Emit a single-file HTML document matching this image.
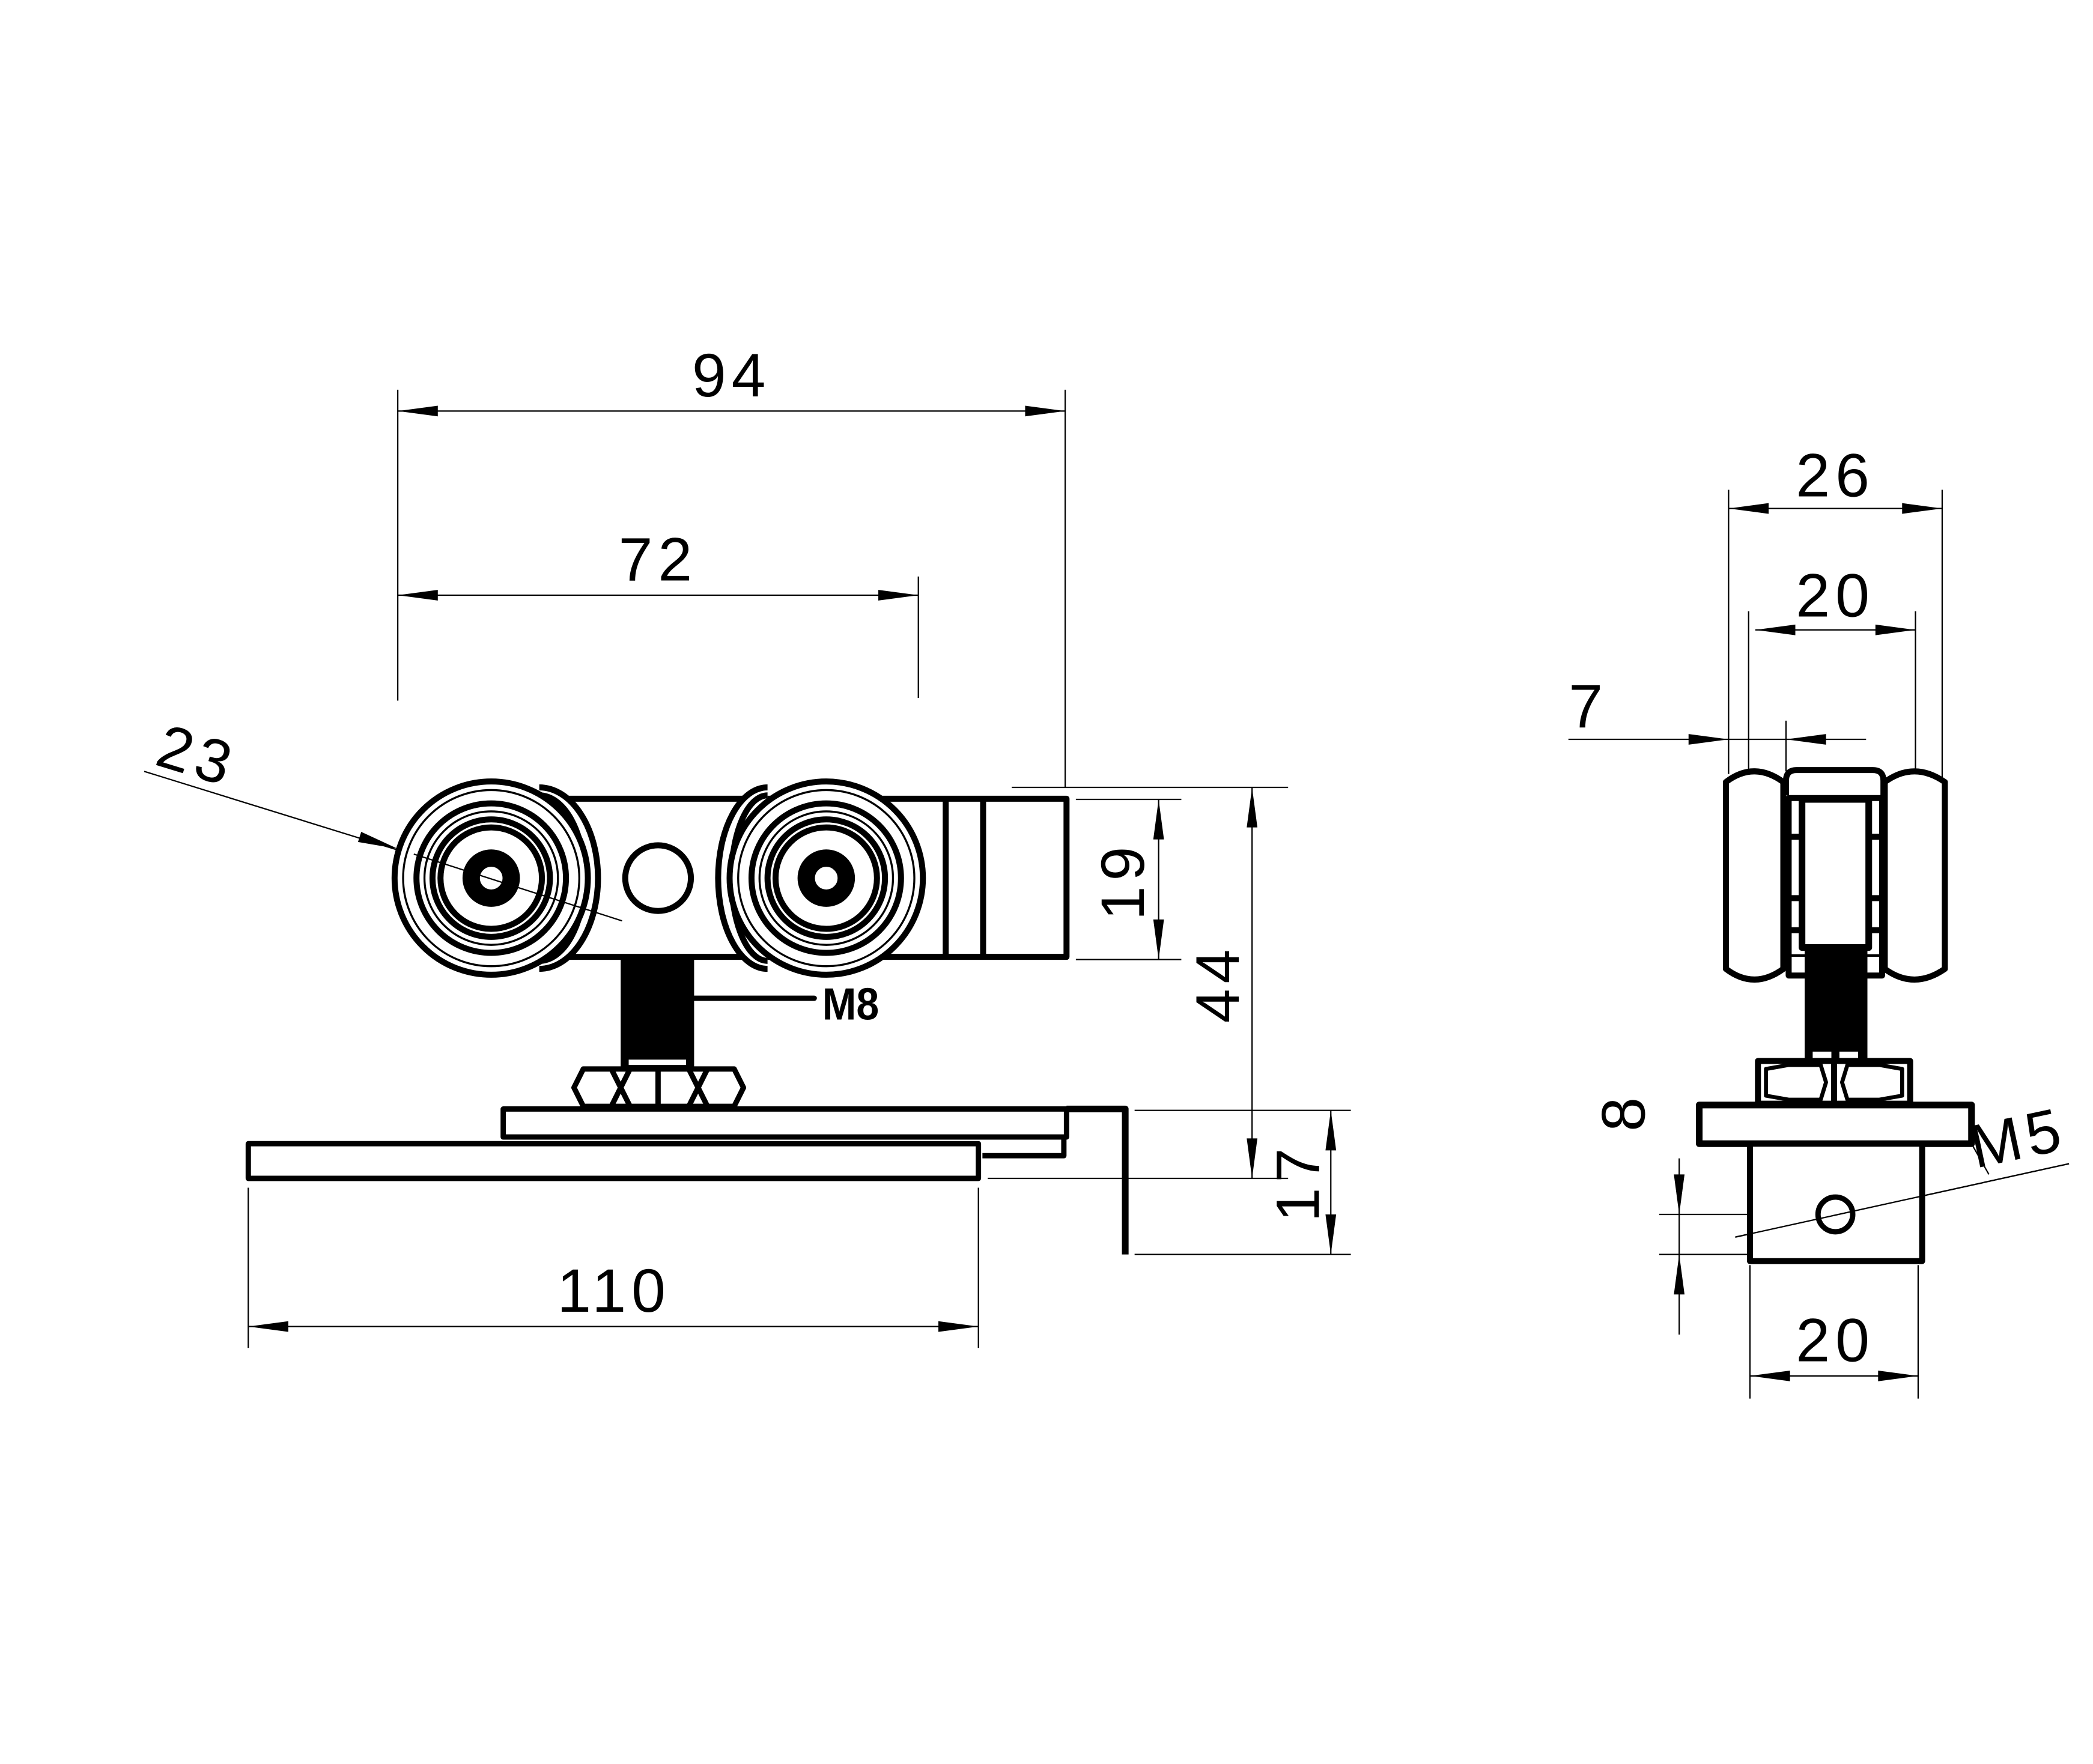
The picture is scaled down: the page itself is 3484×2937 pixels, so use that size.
<!DOCTYPE html>
<html><head><meta charset="utf-8"><style>
html,body{margin:0;padding:0;background:#fff;}
svg{display:block;}
text{font-family:"Liberation Sans",sans-serif;}
</style></head><body>
<svg width="3484" height="2937" viewBox="0 0 1568 1321.8" preserveAspectRatio="none" xmlns="http://www.w3.org/2000/svg">
<rect x="0" y="0" width="1568" height="1322" fill="#fff"/>
<g stroke="#000" stroke-width="1" fill="none">
 <line x1="298" y1="292" x2="298" y2="525"/>
 <line x1="798" y1="292" x2="798" y2="590"/>
 <line x1="688" y1="432" x2="688" y2="523"/>
 <line x1="298" y1="308" x2="798" y2="308"/>
 <line x1="298" y1="446" x2="688" y2="446"/>
 <line x1="108" y1="578" x2="495" y2="698"/>
 <line x1="806" y1="599" x2="885" y2="599"/>
 <line x1="806" y1="719" x2="885" y2="719"/>
 <line x1="868" y1="599" x2="868" y2="719"/>
 <line x1="758" y1="590" x2="965" y2="590"/>
 <line x1="740" y1="883" x2="965" y2="883"/>
 <line x1="938" y1="590" x2="938" y2="883"/>
 <line x1="850" y1="832" x2="1012" y2="832"/>
 <line x1="850" y1="940" x2="1012" y2="940"/>
 <line x1="997" y1="832" x2="997" y2="940"/>
 <line x1="186" y1="890" x2="186" y2="1010"/>
 <line x1="733" y1="890" x2="733" y2="1010"/>
 <line x1="186" y1="994" x2="733" y2="994"/>
 <line x1="1295" y1="367" x2="1295" y2="580"/>
 <line x1="1455" y1="367" x2="1455" y2="590"/>
 <line x1="1310" y1="458" x2="1310" y2="580"/>
 <line x1="1435" y1="458" x2="1435" y2="578"/>
 <line x1="1338" y1="540" x2="1338" y2="578"/>
 <line x1="1295" y1="381" x2="1455" y2="381"/>
 <line x1="1315" y1="472" x2="1435" y2="472"/>
 <line x1="1175" y1="554" x2="1398" y2="554"/>
 <line x1="1243" y1="910" x2="1312" y2="910"/>
 <line x1="1243" y1="940" x2="1312" y2="940"/>
 <line x1="1258" y1="868" x2="1258" y2="1000"/>
 <line x1="1300" y1="927" x2="1550" y2="872"/>
 <line x1="1477" y1="857" x2="1490" y2="880"/>
 <line x1="1311" y1="948" x2="1311" y2="1048"/>
 <line x1="1437" y1="948" x2="1437" y2="1048"/>
 <line x1="1311" y1="1031" x2="1437" y2="1031"/>
</g>
<g fill="#000">
 <polygon points="298,308 328,304 328,312"/><polygon points="798,308 768,304 768,312"/>
 <polygon points="298,446 328,442 328,450"/><polygon points="688,446 658,442 658,450"/>
 <polygon points="298,636 268.2,630.9 270.6,623.3"/><polygon points="466,690 493.4,702.7 495.8,695.1"/>
 <polygon points="868,599 864,629 872,629"/><polygon points="868,719 864,689 872,689"/>
 <polygon points="938,590 934,620 942,620"/><polygon points="938,883 934,853 942,853"/>
 <polygon points="997,832 993,862 1001,862"/><polygon points="997,940 993,910 1001,910"/>
 <polygon points="186,994 216,990 216,998"/><polygon points="733,994 703,990 703,998"/>
 <polygon points="1295,381 1325,377 1325,385"/><polygon points="1455,381 1425,377 1425,385"/>
 <polygon points="1315,472 1345,468 1345,476"/><polygon points="1435,472 1405,468 1405,476"/>
 <polygon points="1295,554 1265,550 1265,558"/><polygon points="1338,554 1368,550 1368,558"/>
 <polygon points="1258,910 1254,880 1262,880"/><polygon points="1258,940 1254,970 1262,970"/>
 <polygon points="1362,914 1333.6,924.4 1331.8,916.6"/><polygon points="1388,908 1418.2,905.4 1416.4,897.6"/>
 <polygon points="1311,1031 1341,1027 1341,1035"/><polygon points="1437,1031 1407,1027 1407,1035"/>
</g>
<g font-size="46" fill="#000" text-anchor="middle" letter-spacing="4">
 <text x="548" y="297">94</text>
 <text x="493" y="435">72</text>
 <text x="148" y="582" transform="rotate(17 148 565)">23</text>
 <text x="460" y="983">110</text>
 <text x="0" y="0" transform="translate(857 660) rotate(-90)">19</text>
 <text x="0" y="0" transform="translate(928 737) rotate(-90)">44</text>
 <text x="0" y="0" transform="translate(988 886) rotate(-90)">17</text>
 <text x="1375" y="372">26</text>
 <text x="1375" y="462">20</text>
 <text x="1190" y="545">7</text>
 <text x="0" y="0" transform="translate(1232 833) rotate(-90)">8</text>
 <text x="0" y="0" transform="translate(1515 868) rotate(-12)">M5</text>
 <text x="1375" y="1020">20</text>
</g>
<g stroke="#000" stroke-width="4.5" fill="#fff" stroke-linejoin="round">
 <rect x="406" y="598.5" width="393" height="118.5"/>
 <line x1="708.5" y1="598.5" x2="708.5" y2="717"/>
 <line x1="736.5" y1="598.5" x2="736.5" y2="717"/>
 <path d="M404,590 A44,68 0 0 1 404,726" fill="#fff"/>
 <path d="M404,596 A34,62 0 0 1 404,720" fill="none"/>
 <path d="M575,590 A37,68 0 0 0 575,726" fill="#fff"/>
 <path d="M575,596 A27,62 0 0 0 575,720" fill="none"/>
 <circle cx="493" cy="658" r="24.6"/>
</g>
<g stroke="#000" fill="none">
 <circle cx="368" cy="658" r="72.4" stroke-width="4.5" fill="#fff"/>
 <circle cx="368" cy="658" r="66" stroke-width="1.5"/>
 <circle cx="368" cy="658" r="56" stroke-width="4.5"/>
 <circle cx="368" cy="658" r="50" stroke-width="1.5"/>
 <circle cx="368" cy="658" r="44" stroke-width="4.5"/>
 <circle cx="368" cy="658" r="38" stroke-width="4.5"/>
 <circle cx="368" cy="658" r="15" stroke-width="13"/>
 <circle cx="619" cy="658" r="72.4" stroke-width="4.5" fill="#fff"/>
 <circle cx="619" cy="658" r="66" stroke-width="1.5"/>
 <circle cx="619" cy="658" r="56" stroke-width="4.5"/>
 <circle cx="619" cy="658" r="50" stroke-width="1.5"/>
 <circle cx="619" cy="658" r="44" stroke-width="4.5"/>
 <circle cx="619" cy="658" r="38" stroke-width="4.5"/>
 <circle cx="619" cy="658" r="15" stroke-width="13"/>
</g>
<line x1="310" y1="640" x2="466" y2="690" stroke="#000" stroke-width="1"/>
<rect x="465" y="717" width="55" height="83" fill="#000"/>
<rect x="471" y="794" width="43" height="4" fill="#fff"/>
<line x1="520" y1="748" x2="610" y2="748" stroke="#000" stroke-width="4" stroke-linecap="round"/>
<text x="0" y="0" transform="translate(616 764) scale(0.9 1)" font-size="34" font-weight="bold" fill="#000">M8</text>
<g stroke="#000" stroke-width="4" fill="#fff" stroke-linejoin="round">
 <polygon points="430,815 437,801 550,801 557,815 550,829 437,829"/>
 <polyline points="458,801 465,815 458,829" fill="none"/>
 <polyline points="472,801 465,815 472,829" fill="none"/>
 <polyline points="516,801 523,815 516,829" fill="none"/>
 <polyline points="530,801 523,815 530,829" fill="none"/>
 <line x1="493" y1="801" x2="493" y2="829"/>
 <rect x="377" y="831" width="422" height="21"/>
 <rect x="186" y="857" width="547" height="26"/>
 <path d="M799,831 L843,831 L843,940" fill="none" stroke-width="5"/>
 <path d="M797,852 L797,866 L736,866" fill="none"/>
</g>
<g stroke="#000" stroke-width="4.5" fill="#fff" stroke-linejoin="round">
 <path d="M1293,586 Q1314,570 1336,586 L1336,726 Q1314,742 1293,726 Z"/>
 <path d="M1412,586 Q1434,570 1457,586 L1457,726 Q1434,742 1412,726 Z"/>
 <path d="M1338,596 L1338,585 Q1338,577 1346,577 L1403,577 Q1411,577 1411,585 L1411,596" fill="none"/>
 <rect x="1340" y="598" width="70" height="133"/>
 <rect x="1350" y="599" width="50" height="111" stroke-width="5"/>
 <line x1="1340" y1="627" x2="1350" y2="627"/><line x1="1400" y1="627" x2="1410" y2="627"/>
 <line x1="1340" y1="673" x2="1350" y2="673"/><line x1="1400" y1="673" x2="1410" y2="673"/>
 <line x1="1340" y1="697" x2="1350" y2="697"/><line x1="1400" y1="697" x2="1410" y2="697"/>
 <line x1="1340" y1="716" x2="1410" y2="716" stroke-width="2"/>
</g>
<rect x="1352" y="710" width="47" height="85" fill="#000"/>
<rect x="1358" y="788" width="14" height="5" fill="#fff"/>
<rect x="1378" y="788" width="14" height="5" fill="#fff"/>
<g stroke="#000" stroke-width="4.5" fill="#fff" stroke-linejoin="round">
 <rect x="1317" y="795" width="114" height="32"/>
 <polygon points="1323,801 1340,798 1364,798 1368,811 1364,824 1340,824 1323,821" stroke-width="3"/>
 <polygon points="1425,801 1408,798 1384,798 1380,811 1384,824 1408,824 1425,821" stroke-width="3"/>
 <line x1="1374" y1="797" x2="1374" y2="825"/>
 <rect x="1273" y="828" width="204" height="29" stroke-width="5"/>
 <rect x="1311" y="857" width="129" height="88"/>
 <circle cx="1375" cy="910" r="13" stroke-width="4"/>
</g>
<line x1="1300" y1="927" x2="1550" y2="872" stroke="#000" stroke-width="1"/>
</svg>
</body></html>
